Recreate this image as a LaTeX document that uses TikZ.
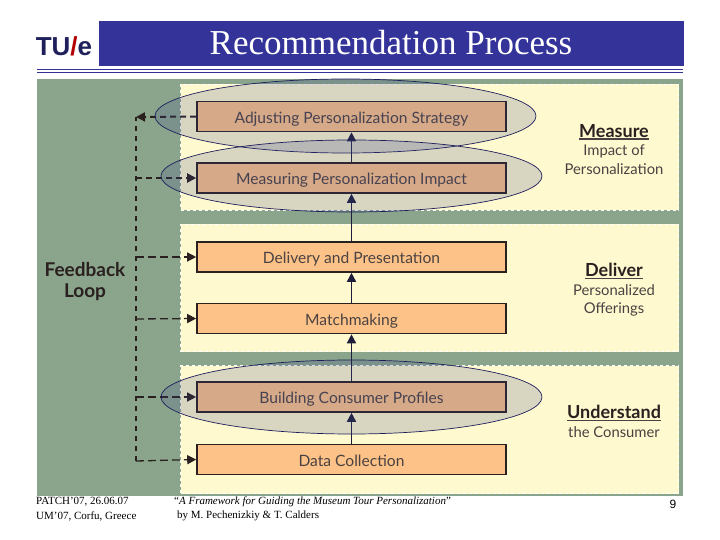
\documentclass[tikz,border=0pt]{standalone}
\usepackage{fontspec}
\setmainfont{Liberation Serif}
\newfontfamily\boxfont{Lato}
\newfontfamily\numfont{Liberation Sans}
\usetikzlibrary{shapes.geometric,arrows.meta}
\definecolor{navy}{HTML}{333399}
\definecolor{sage}{HTML}{8AA58B}
\definecolor{cream}{HTML}{FFF9CF}
\definecolor{orangebox}{HTML}{FDC287}
\definecolor{ink}{HTML}{2A2020}
\definecolor{halo}{HTML}{3C468C}
\definecolor{arrowink}{HTML}{1E1E3C}
\newcommand{\headword}[1]{\leavevmode\vtop{\hbox{\bfseries\fontsize{18}{18}\selectfont\color{ink}#1}\kern.6pt\hrule height 1.4pt}}
\tikzset{
  panel/.style={draw=white,dashed,line width=1pt,fill=cream,minimum width=498pt,anchor=north west,inner sep=0pt},
  stepbox/.style={draw=ink,line width=1.6pt,fill=orangebox,minimum width=309pt,minimum height=30pt,inner sep=0pt,text height=13.5pt,text depth=0pt,font=\boxfont\fontsize{15.6}{17}\selectfont,text=ink!85},
  halobox/.style={ellipse,draw=navy!60!black,line width=.7pt,fill=halo,fill opacity=.2,inner sep=0pt},
  flow/.style={draw=arrowink,line width=1.5pt,-{Triangle[length=9pt,width=9pt]}},
  fbthick/.style={draw=ink,line width=2pt,dash pattern=on 6pt off 4pt},
  fbthin/.style={draw=ink,line width=1.3pt,dash pattern=on 8pt off 4pt},
  spine/.style={draw=ink,line width=2.6pt,dash pattern=on 5pt off 5pt},
  tip/.style={-{Triangle[length=9pt,width=9pt]}},
  sidelabel/.style={align=center,inner sep=0pt,font=\boxfont\fontsize{14.8}{18.5}\selectfont,text=ink!85},
  foot/.style={anchor=west,inner sep=0pt,font=\fontsize{11}{12}\selectfont,text=black},
}
\begin{document}
\begin{tikzpicture}[x=1pt,y=-1pt]
\useasboundingbox (0,0) rectangle (720,540);
% header
\node[fill=navy,minimum width=585pt,minimum height=45pt,inner sep=0pt,anchor=north west] (bar) at (99,21) {};
\node[text=white,inner sep=0pt,font=\fontsize{35}{38}\selectfont] (title) at (391,43) {Recommendation Process};
\node[inner sep=0pt,font=\numfont\bfseries\fontsize{26}{28}\selectfont,text=navy!60!black] (logo) at (64,46) {TU\textcolor{red!70!black}{/}e};
\draw[navy,line width=1pt] (37,70) -- (683,70);
\draw[navy,line width=1pt] (37,72.5) -- (683,72.5);
% ground
\node[fill=sage,minimum width=646pt,minimum height=417pt,inner sep=0pt,anchor=north west] (ground) at (37,79) {};
\node[panel,minimum height=126pt] (pm) at (180,84) {};
\node[panel,minimum height=127pt] (pd) at (180,224) {};
\node[panel,minimum height=128pt] (pu) at (180,365) {};
% spine
\coordinate (s1) at (136,117);
\coordinate (s2) at (136,178);
\coordinate (s3) at (136,257);
\coordinate (s4) at (136,319);
\coordinate (s5) at (136,397);
\coordinate (s6) at (136,461);
% boxes
\node[stepbox] (adjust) at (351.5,116.5) {Adjusting Personalization Strategy};
\node[stepbox] (measuring) at (351.5,178) {Measuring Personalization Impact};
\node[stepbox] (delivery) at (351.5,257) {Delivery and Presentation};
\node[stepbox] (match) at (351.5,318.5) {Matchmaking};
\node[stepbox] (building) at (351.5,397) {Building Consumer Profiles};
\node[stepbox] (data) at (351.5,459.5) {Data Collection};
% flow
\draw[flow] (data.north) -- (building.south);
\draw[flow] (building.north) -- (match.south);
\draw[flow] (match.north) -- (delivery.south);
\draw[flow] (delivery.north) -- (measuring.south);
\draw[flow] (measuring.north) -- (adjust.south);
% feedback
\draw[spine] (s6) -- (s1);
\draw[fbthick,tip] (adjust.west) -- (s1);
\draw[fbthick,tip] (s2) -- (measuring.west);
\draw[fbthin,tip] (s3) -- (delivery.west);
\draw[fbthin,tip] (s4) -- (match.west);
\draw[fbthin,tip] (s5) -- (building.west);
\draw[fbthin,tip] (s6) -- (data.west);
% halos
\node[halobox,minimum width=381pt,minimum height=74pt] (h1) at (345.5,116) {};
\node[halobox,minimum width=381pt,minimum height=72pt] (h2) at (351.5,176) {};
\node[halobox,minimum width=381pt,minimum height=74pt] (h3) at (351.5,397) {};
% labels
\node[sidelabel,font=\boxfont\bfseries\fontsize{19}{21}\selectfont,text=ink] (fb) at (85,282) {Feedback\\Loop};
\node[sidelabel] (m1) at (614,149.5) {\headword{Measure}\\Impact of\\Personalization};
\node[sidelabel] (d1) at (614,290) {\headword{Deliver}\\Personalized\\Offerings};
\node[sidelabel] (u1) at (614,421.5) {\headword{Understand}\\the Consumer};
% footer
\node[foot] (f1) at (36,502) {PATCH’07, 26.06.07};
\node[foot] (f2) at (36,516) {UM’07, Corfu, Greece};
\node[foot] (f3) at (174,502) {“\textit{A Framework for Guiding the Museum Tour Personalization}”};
\node[foot] (f4) at (177,516) {by M. Pechenizkiy \& T. Calders};
\node[inner sep=0pt,font=\numfont\fontsize{12}{13}\selectfont] (pg) at (673,504) {9};
\end{tikzpicture}
\end{document}
